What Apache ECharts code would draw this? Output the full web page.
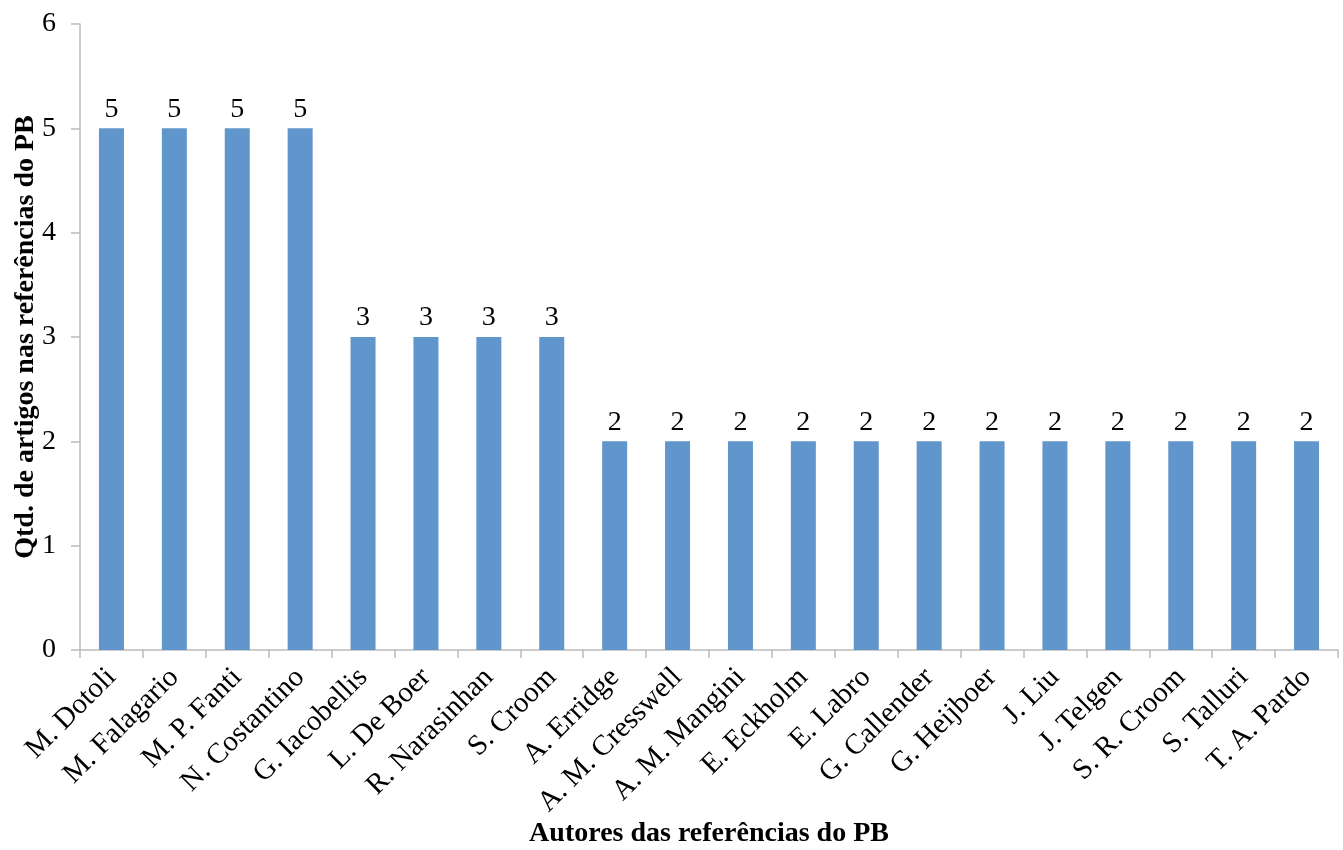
<!DOCTYPE html>
<html><head><meta charset="utf-8">
<script src="https://cdn.jsdelivr.net/npm/echarts@6/dist/echarts.min.js"></script>
<style>html,body{margin:0;padding:0;background:#fff}#c{width:1343px;height:850px}</style>
</head><body><div id="c"></div>
<script>
const categories = ["M. Dotoli","M. Falagario","M. P. Fanti","N. Costantino","G. Iacobellis","L. De Boer","R. Narasinhan","S. Croom","A. Erridge","A. M. Cresswell","A. M. Mangini","E. Eckholm","E. Labro","G. Callender","G. Heijboer","J. Liu","J. Telgen","S. R. Croom","S. Talluri","T. A. Pardo"];
const values = [5,5,5,5,3,3,3,3,2,2,2,2,2,2,2,2,2,2,2,2];
const yTicks = [0,1,2,3,4,5,6];
const xName = "Autores das referências do PB";
const yName = "Qtd. de artigos nas referências do PB";

const font = "Liberation Serif";
const axisColor = "#bcbcbc";
const chart = echarts.init(document.getElementById('c'));
chart.setOption({
  animation: false,
  grid: {left: 80, right: 5, top: 24, bottom: 200, containLabel: false, outerBoundsMode: 'none'},
  xAxis: {
    type: 'category', data: categories,
    name: xName, nameLocation: 'middle', nameGap: 170, nameMoveOverlap: false,
    nameTextStyle: {fontFamily: font, fontSize: 28, fontWeight: 'bold', color: '#000'},
    axisLine: {lineStyle: {color: axisColor, width: 1.5}},
    axisTick: {show: true, alignWithLabel: false, length: 8, lineStyle: {color: axisColor, width: 1.5}},
    axisLabel: {rotate: 45, fontFamily: font, fontSize: 29, color: '#000', margin: 23, interval: 0}
  },
  yAxis: {
    type: 'value', min: yTicks[0], max: yTicks[yTicks.length-1], interval: 1,
    name: yName, nameLocation: 'middle', nameGap: 40, nameMoveOverlap: false,
    nameTextStyle: {fontFamily: font, fontSize: 28, fontWeight: 'bold', color: '#000'},
    axisLine: {show: true, lineStyle: {color: axisColor, width: 1.5}},
    axisTick: {show: true, length: 9, lineStyle: {color: axisColor, width: 1.5}},
    splitLine: {show: false},
    axisLabel: {fontFamily: font, fontSize: 28, color: '#000', margin: 24}
  },
  series: [{
    type: 'bar', data: values, barWidth: 25,
    itemStyle: {color: '#6096cb'},
    label: {show: true, position: 'top', distance: 5, fontFamily: font, fontSize: 28, color: '#000'}
  }]
});
</script></body></html>
